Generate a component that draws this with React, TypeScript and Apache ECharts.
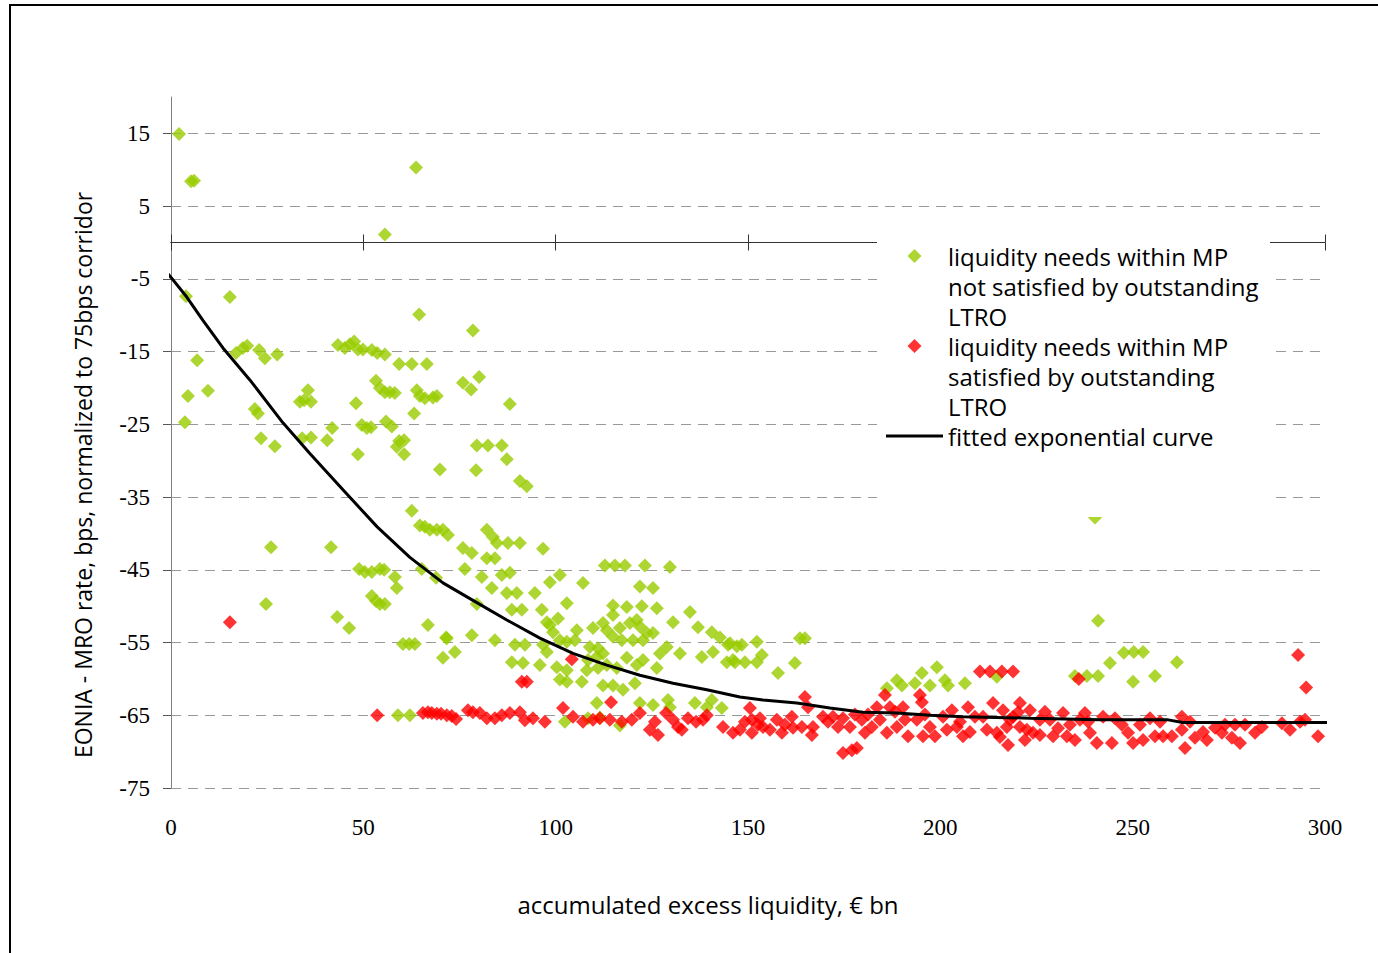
import React, { useEffect, useRef } from "react";
import * as echarts from "echarts";

const greenName = "liquidity needs within MP not satisfied by outstanding LTRO";
const redName = "liquidity needs within MP satisfied by outstanding LTRO";
const curveName = "fitted exponential curve";

const legendLabels: Record<string, string> = {
  [greenName]: "liquidity needs within MP\nnot satisfied by outstanding\nLTRO",
  [redName]: "liquidity needs within MP\nsatisfied by outstanding\nLTRO",
  [curveName]: "fitted exponential curve\n \n ",
};

const yTickValues = [-75, -65, -55, -45, -35, -25, -15, -5, 5, 15];
const xTickInterval = 50;

const greenPoints: [number, number][] = [
  [2.1, 14.9], [5.2, 8.4], [6.0, 8.5], [63.7, 10.3], [55.6, 1.1],
  [3.9, -7.4], [15.3, -7.5], [64.5, -9.9], [78.5, -12.1], [6.8, -16.2], [4.4, -21.1], [9.6, -20.4], [3.6, -24.7],
  [16.9, -15.2], [18.7, -14.5], [19.8, -14.2], [22.9, -14.8], [24.4, -15.9], [27.6, -15.4],
  [21.8, -22.9], [22.6, -23.5], [23.4, -26.9], [27.0, -28.0],
  [33.5, -21.9], [34.6, -21.7], [35.6, -20.3], [36.4, -21.9], [34.1, -26.9], [36.4, -26.8], [41.9, -25.5], [40.6, -27.2],
  [41.6, -41.9], [26.0, -41.9], [24.7, -49.7],
  [43.4, -14.1], [45.2, -14.5], [46.5, -14.0], [47.6, -13.6], [48.6, -14.7], [49.9, -14.7], [52.2, -14.8], [53.6, -15.2], [55.6, -15.4],
  [53.3, -19.0], [54.3, -20.0], [55.6, -20.6], [56.9, -20.6], [58.2, -20.7],
  [48.1, -22.1], [49.6, -25.1], [50.9, -25.5], [52.0, -25.4], [55.9, -24.6], [57.4, -25.3], [48.6, -29.1],
  [59.3, -27.3], [60.6, -27.2], [58.7, -28.1], [60.6, -29.1],
  [59.3, -16.7], [62.6, -16.7], [66.5, -16.7],
  [63.9, -20.3], [64.7, -21.1], [66.0, -21.4], [68.1, -21.3], [69.1, -21.1], [63.2, -23.5], [69.9, -31.2],
  [75.9, -19.3], [78.0, -20.2], [80.1, -18.5], [79.3, -31.3], [79.5, -27.9], [82.4, -27.9], [86.0, -27.9], [87.3, -29.8], [88.1, -22.2], [90.7, -32.8], [92.5, -33.5],
  [62.6, -36.9], [64.7, -38.9], [66.0, -39.1], [67.3, -39.5], [69.1, -39.5], [70.7, -39.5], [72.0, -40.2], [68.9, -46.1],
  [75.9, -42.0], [78.2, -42.7], [82.1, -39.5], [83.7, -40.5], [84.7, -41.3], [87.6, -41.3], [90.7, -41.3], [96.7, -42.1], [82.1, -43.4], [84.2, -43.4],
  [48.9, -44.9], [50.4, -45.3], [52.2, -45.3], [54.3, -44.9], [55.4, -45.0], [58.2, -46.0], [58.7, -47.5],
  [52.2, -48.6], [53.3, -49.3], [54.3, -49.7], [55.6, -49.7], [43.2, -51.5], [46.3, -53.0],
  [65.2, -44.9], [66.8, -52.6], [71.5, -54.3], [70.7, -57.1], [73.8, -56.3], [60.3, -55.2], [61.9, -55.2], [63.4, -55.2],
  [76.4, -44.9], [80.8, -46.0], [86.0, -45.7], [88.1, -45.4], [83.4, -47.5], [87.3, -48.2], [89.9, -48.2], [94.6, -48.2], [98.5, -46.7], [101.1, -45.7], [107.1, -46.8],
  [112.8, -44.4], [115.4, -44.4], [118.0, -44.4], [123.2, -44.4], [129.7, -44.6], [121.9, -47.3], [125.3, -47.5],
  [102.9, -49.6], [79.5, -49.7], [88.6, -50.5], [91.2, -50.5], [96.4, -50.5], [97.7, -52.2],
  [114.9, -49.9], [118.5, -50.1], [122.4, -50.0], [126.3, -50.3], [134.9, -50.8], [114.9, -51.2], [130.5, -52.2], [137.0, -52.9], [140.6, -53.6], [142.7, -54.3], [144.8, -55.3], [147.1, -55.5],
  [71.7, -54.4], [78.2, -54.0], [84.2, -54.7], [89.4, -55.3], [92.0, -55.3], [88.6, -57.7], [91.5, -57.8], [95.9, -58.1], [96.7, -55.3], [97.7, -56.3],
  [99.3, -53.6], [101.1, -54.7], [102.9, -54.9], [105.5, -53.3], [105.0, -54.7], [100.3, -58.4], [102.9, -58.8], [101.1, -60.1], [102.9, -60.4], [106.8, -60.4],
  [108.4, -57.4], [110.7, -57.0], [109.7, -53.0], [112.3, -52.3], [113.3, -53.3], [114.9, -54.2], [108.9, -55.6], [111.0, -55.8],
  [116.7, -53.0], [117.2, -54.7], [119.3, -52.3], [121.1, -51.9], [121.9, -52.8], [123.7, -53.7], [125.3, -53.7], [120.1, -54.7], [122.7, -54.7],
  [127.1, -56.5], [128.9, -55.6], [132.3, -56.5], [112.3, -56.5], [113.3, -58.1], [115.9, -58.5], [118.5, -57.1], [121.1, -58.1], [122.7, -57.4], [126.3, -58.5], [111.0, -58.5], [108.1, -58.8],
  [112.3, -60.9], [114.9, -60.9], [117.5, -61.5], [120.6, -60.6], [110.7, -63.3], [121.9, -63.3], [125.3, -63.6], [129.2, -62.9], [129.7, -63.9], [136.2, -63.3], [139.3, -63.9], [140.6, -62.9], [143.2, -64.0],
  [138.0, -57.0], [140.9, -56.3], [144.5, -57.7], [146.6, -57.7], [102.4, -65.9], [108.4, -65.4], [116.7, -66.4], [111.5, -65.3],
  [145.3, -55.1], [148.4, -55.3], [152.3, -54.9], [153.6, -56.7], [146.1, -57.4], [149.2, -57.7], [152.3, -57.7], [157.8, -59.2], [162.2, -57.8], [163.5, -54.4], [164.8, -54.4],
  [186.1, -61.3], [188.7, -60.2], [190.0, -60.9], [193.4, -60.6], [195.2, -59.2], [197.3, -60.9], [199.1, -58.4], [201.2, -60.2], [202.0, -60.9], [206.4, -60.6], [214.7, -59.7],
  [240.2, -37.8], [241.0, -52.0], [235.0, -59.6], [238.1, -59.6], [241.0, -59.6], [244.1, -57.8], [247.7, -56.4], [250.3, -56.3], [252.7, -56.3], [250.1, -60.4], [255.8, -59.6], [261.5, -57.7],
  [59.0, -65.0], [62.1, -65.0], [100.6, -51.7], [98.5, -52.6],
];

const redPoints: [number, number][] = [
  [15.3, -52.2], [53.6, -65.0], [65.5, -64.7], [66.8, -64.6], [67.8, -64.7], [69.1, -64.8], [70.2, -64.8], [71.7, -65.0], [73.0, -65.1], [74.1, -65.5],
  [77.2, -64.3], [78.5, -64.6], [80.3, -64.7], [82.1, -65.4], [84.2, -65.4], [86.0, -65.0], [88.1, -64.7], [90.7, -64.6], [92.0, -65.7], [94.1, -65.4], [97.2, -65.9],
  [91.2, -60.4], [92.5, -60.4], [104.2, -57.3],
  [104.5, -65.2], [107.1, -65.9], [109.7, -65.6], [111.5, -65.4], [114.1, -65.6], [117.2, -65.9], [119.8, -65.6], [121.9, -64.7], [114.4, -63.2],
  [124.5, -67.0], [126.6, -67.7], [128.7, -64.7], [130.5, -65.6], [131.8, -66.6], [132.8, -67.0], [138.3, -65.6], [139.3, -65.0], [143.5, -66.6], [146.1, -67.4], [149.2, -65.9],
  [150.5, -64.0], [151.0, -65.6], [151.0, -67.4], [152.6, -66.3], [153.9, -66.6], [155.7, -67.0], [157.5, -65.6], [158.8, -67.4], [161.4, -65.2], [161.7, -66.7], [164.0, -66.6], [164.8, -62.5], [165.6, -63.9], [166.9, -66.6],
  [169.5, -65.2], [172.1, -65.2], [173.4, -66.6], [174.7, -65.4], [176.5, -66.6], [177.8, -64.9], [179.6, -65.6], [180.4, -67.4], [182.2, -66.6], [183.5, -63.9], [184.3, -65.6], [186.1, -67.4], [186.9, -63.9], [188.7, -66.6], [190.3, -63.9], [190.8, -65.6], [191.6, -67.9], [193.9, -65.6], [195.5, -67.9], [197.3, -66.6], [198.6, -67.9], [200.7, -65.2], [201.7, -67.0], [203.0, -64.3], [204.3, -66.6], [205.9, -67.9], [207.7, -67.3], [209.0, -65.2], [211.1, -65.2], [212.1, -67.0], [213.7, -63.3], [214.7, -67.4], [216.3, -64.3], [217.3, -66.6], [218.9, -65.2], [220.7, -63.3], [222.5, -67.0],
  [174.7, -70.2], [177.0, -69.8], [178.3, -69.5], [185.6, -62.2], [194.7, -62.2], [195.2, -63.2], [210.3, -59.0], [212.9, -59.0], [216.0, -59.0], [218.9, -59.0],
  [218.1, -65.6], [220.2, -64.6], [220.7, -66.6], [223.3, -64.3], [224.1, -67.4], [225.9, -65.6], [228.5, -65.6], [229.3, -67.9], [231.9, -64.7], [232.9, -67.9], [235.0, -68.4], [236.3, -65.6], [237.6, -64.7], [238.9, -67.4], [240.7, -68.8], [242.3, -65.2], [244.6, -68.8], [245.4, -65.4], [248.8, -67.4], [250.1, -68.8], [252.7, -68.4], [254.5, -65.4], [255.8, -67.9], [257.9, -67.9], [260.2, -67.9], [262.8, -65.2], [262.8, -67.0], [263.6, -69.5], [266.2, -68.1], [268.3, -67.3], [269.3, -68.4], [273.2, -67.4], [274.0, -66.3], [276.6, -66.3], [277.9, -68.8], [279.2, -66.3], [281.8, -67.4], [288.8, -66.1], [293.5, -65.9], [294.8, -65.6], [293.0, -56.7], [295.1, -61.2], [298.2, -67.9], [236.0, -60.0],
  [227.2, -64.5], [230.6, -66.8], [233.7, -66.3], [238.4, -65.9], [222.0, -68.4], [215.5, -68.0], [217.6, -69.1],
  [101.9, -64.0], [125.8, -65.9], [134.4, -65.4], [136.5, -65.9], [147.9, -67.0], [153.1, -65.4], [159.6, -66.3], [166.6, -67.7], [170.8, -65.9], [181.2, -64.9], [188.2, -64.5], [196.0, -64.9], [205.1, -65.9], [207.2, -63.9], [225.9, -67.7], [247.2, -66.3], [251.9, -66.3], [257.1, -65.9], [264.9, -65.9], [271.4, -66.7], [275.8, -68.1], [283.6, -66.6], [290.9, -67.0],
];

const curveX = [-2, 0, 4.1, 8.3, 13.5, 20.5, 29.1, 36.1, 44.7, 53.6, 62.1, 70.7, 78.5, 87.3, 95.9, 104.5, 113.3, 121.9, 130.5, 139.3, 147.9, 153.9, 162.7, 171.3, 179.9, 188.7, 197.3, 205.9, 223.3, 241.5, 258.9, 263, 302];
const curveY = [-3.6, -4.8, -7.5, -10.7, -14.5, -18.9, -24.8, -29.0, -34.0, -39.1, -43.3, -46.8, -49.2, -51.9, -54.4, -56.5, -58.1, -59.5, -60.6, -61.5, -62.5, -62.9, -63.3, -64.0, -64.6, -64.7, -65.0, -65.2, -65.4, -65.6, -65.6, -66.0, -66.0];

const diamondIcon = "path://M0,0L0,0M57,90L57,90M28.5,8L35.5,15L28.5,22L21.5,15Z";
const lineIcon = "path://M0,0L0,0M57,90L57,90M0,13.5L57,13.5L57,16.5L0,16.5Z";

const sansFont = "'Open Sans', 'Noto Sans', sans-serif";
const serifFont = "'Liberation Serif', 'DejaVu Serif', serif";

export default function App() {
  const ref = useRef<HTMLDivElement>(null);

  useEffect(() => {
    if (!ref.current) return;
    const chart = echarts.init(ref.current, null, { renderer: "svg" });
    const curveData = curveX.map((x, i) => [x, curveY[i]]);
    chart.setOption({
      animation: false,
      backgroundColor: "#ffffff",
      grid: { left: 171, right: 53, top: 97, bottom: 165, containLabel: false },
      xAxis: [
        {
          type: "value",
          min: 0,
          max: 300,
          interval: xTickInterval,
          position: "bottom",
          axisLine: { show: false, onZero: false },
          axisTick: { show: false },
          splitLine: { show: false },
          axisLabel: { margin: 28, fontFamily: serifFont, fontSize: 23, color: "#000" },
          name: "accumulated excess liquidity, € bn",
          nameLocation: "middle",
          nameGap: 104,
          nameTextStyle: { fontFamily: sansFont, fontSize: 24, color: "#000", padding: [0, 80, 0, 0] },
        },
        {
          type: "value",
          min: 0,
          max: 300,
          interval: xTickInterval,
          axisLine: { show: true, onZero: true, onZeroAxisIndex: 0, lineStyle: { color: "#333", width: 1 } },
          axisTick: { show: true, length: 8, inside: false, lineStyle: { color: "#333", width: 1 } },
          axisLabel: { show: false },
          splitLine: { show: false },
        },
        {
          type: "value",
          min: 0,
          max: 300,
          interval: xTickInterval,
          axisLine: { show: true, onZero: true, onZeroAxisIndex: 1, lineStyle: { color: "#333", width: 1 } },
          axisTick: { show: true, length: 8, inside: true, lineStyle: { color: "#333", width: 1 } },
          axisLabel: { show: false },
          splitLine: { show: false },
        },
      ],
      yAxis: [
        {
          type: "value",
          min: -75,
          max: 20,
          axisLine: { show: true, onZero: false, lineStyle: { color: "#808080", width: 1 } },
          axisTick: { show: true, length: 8, customValues: yTickValues, lineStyle: { color: "#555", width: 1 } },
          axisLabel: { customValues: yTickValues, margin: 21, fontFamily: serifFont, fontSize: 23, color: "#000" },
          splitLine: { show: true, lineStyle: { color: "#999", width: 1, type: [10, 7] } },
          name: "EONIA - MRO rate, bps, normalized to 75bps corridor",
          nameLocation: "middle",
          nameGap: 77,
          nameTextStyle: { fontFamily: sansFont, fontSize: 23, color: "#000", padding: [0, 65, 0, 0] },
        },
        { type: "value", min: -75, max: 20, show: false },
      ],
      legend: {
        orient: "vertical",
        left: 886,
        top: 241,
        padding: 0,
        itemGap: 0,
        itemWidth: 57,
        itemHeight: 90,
        selectedMode: false,
        z: 6,
        itemStyle: { borderWidth: 0 },
        data: [
          { name: greenName, icon: diamondIcon },
          { name: redName, icon: diamondIcon },
          { name: curveName, icon: lineIcon },
        ],
        formatter: (name: string) => legendLabels[name] || name,
        textStyle: { fontFamily: sansFont, fontSize: 24, lineHeight: 30, color: "#000" },
      },
      graphic: [
        {
          type: "rect",
          shape: { x: 877, y: 234, width: 393, height: 283 },
          style: { fill: "#ffffff" },
          z: 5,
          silent: true,
        },
        {
          type: "rect",
          shape: { x: 10, y: 5, width: 1420, height: 1000 },
          style: { fill: "none", stroke: "#000", lineWidth: 2 },
          z: 10,
          silent: true,
        },
      ],
      series: [
        {
          name: greenName,
          type: "scatter",
          data: greenPoints,
          symbol: "diamond",
          symbolSize: 14,
          itemStyle: { color: "#99CC00" },
          z: 2,
        },
        {
          name: redName,
          type: "scatter",
          data: redPoints,
          symbol: "diamond",
          symbolSize: 14,
          itemStyle: { color: "#FF0000" },
          z: 2,
        },
        {
          name: curveName,
          type: "line",
          data: curveData,
          symbol: "none",
          showSymbol: false,
          clip: false,
          lineStyle: { color: "#000", width: 3 },
          itemStyle: { color: "#000" },
          z: 3,
        },
      ],
    });
    return () => chart.dispose();
  }, []);

  return (
    <div
      ref={ref}
      style={{ position: "fixed", left: 0, top: 0, width: 1378, height: 953, background: "#fff" }}
    />
  );
}
